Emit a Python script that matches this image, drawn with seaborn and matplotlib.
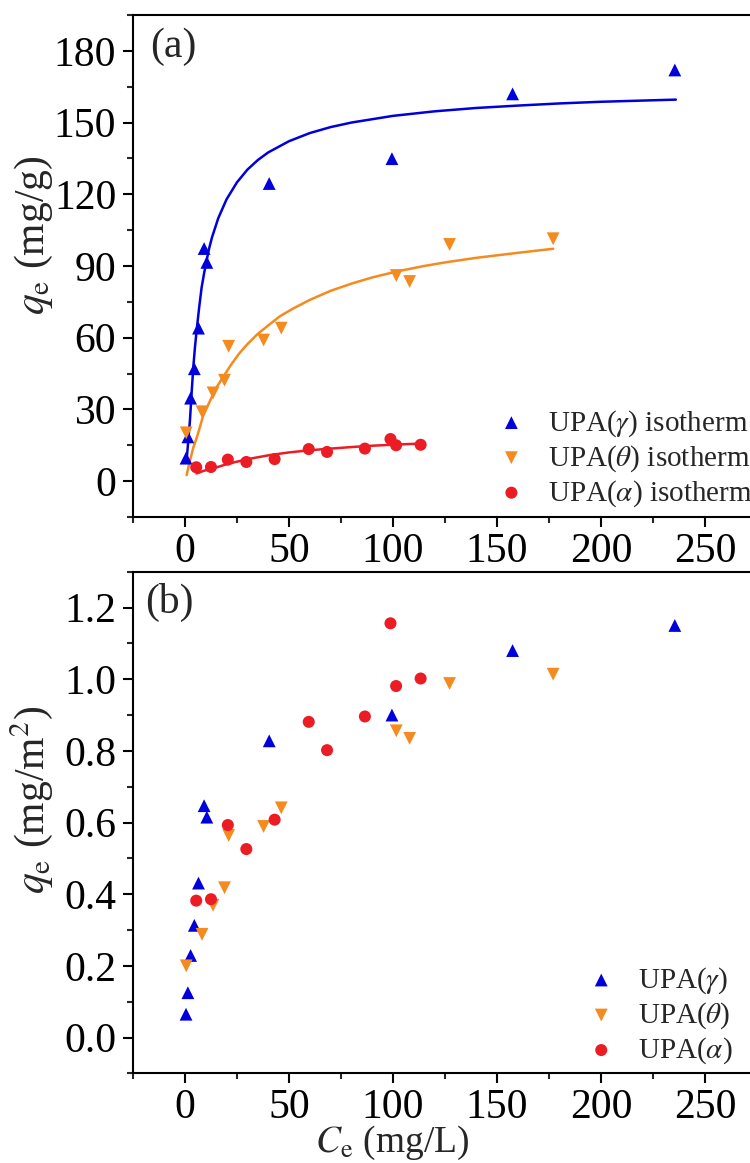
import numpy as np
import pandas as pd
import seaborn as sns
import matplotlib.pyplot as plt
from matplotlib.ticker import MultipleLocator

# measured points (same Ce in both panels)
ce_gamma = [0.5, 1.4, 2.7, 4.5, 6.5, 9.2, 10.5, 40.5, 99.5, 157.5, 235.5]
qa_gamma = [9.6, 18.5, 34.7, 47.0, 64.0, 97.3, 91.5, 124.5, 134.9, 162.0, 172.0]
qb_gamma = [0.065, 0.125, 0.229, 0.313, 0.431, 0.647, 0.615, 0.828, 0.900, 1.080, 1.150]

ce_theta = [0.6, 8.2, 13.5, 19.0, 21.0, 37.8, 46.3, 101.6, 108.0, 127.2, 177.0]
qa_theta = [20.2, 29.0, 36.9, 42.2, 56.4, 59.0, 64.0, 86.0, 83.5, 99.0, 101.4]
qb_theta = [0.200, 0.288, 0.369, 0.418, 0.564, 0.589, 0.641, 0.856, 0.835, 0.988, 1.014]

ce_alpha = [5.4, 12.5, 20.6, 29.5, 43.1, 59.5, 68.3, 86.5, 98.8, 101.5, 113.3]
qa_alpha = [5.8, 5.9, 9.0, 8.0, 9.2, 13.4, 12.2, 13.6, 17.6, 15.0, 15.2]
qb_alpha = [0.382, 0.386, 0.593, 0.526, 0.608, 0.881, 0.802, 0.896, 1.156, 0.981, 1.002]

# fitted isotherm curves
fit_ce_gamma = [0.8, 1.6, 2.4, 3.2, 4.0, 4.8, 5.6, 6.8, 8.0, 9.2, 10.4, 11.6, 13, 16, 20, 25, 30, 35, 40,
                50, 60, 70, 80, 100, 120, 140, 160, 180, 200, 220, 236]
fit_q_gamma = [8.8, 17.0, 25.5, 37.0, 47.7, 56.0, 63.0, 72.5, 81.0, 87.0, 92.3, 97.3, 102.0, 110.0, 117.9,
               125.0, 130.3, 134.3, 137.5, 142.2, 145.6, 148.1, 150.0, 152.8, 154.7, 156.1, 157.1, 158.0,
               158.7, 159.2, 159.6]
fit_ce_theta = [0.8, 2, 4, 6, 8.8, 12, 15, 18.4, 22, 26, 30, 35, 40, 45.7, 52, 60, 70, 80, 90, 101.8,
                115, 125.8, 140, 160, 177]
fit_q_theta = [2.5, 7.2, 14.0, 19.1, 27.5, 33.5, 39.0, 43.6, 48.5, 53.3, 57.3, 61.6, 65.1, 69.0, 72.2,
               75.8, 79.6, 82.6, 85.2, 87.7, 90.0, 91.6, 93.4, 95.5, 97.2]
fit_ce_alpha = [5.6, 9, 13.6, 19, 24.8, 32, 40.9, 50, 60, 70, 81, 90, 101.8, 113.5]
fit_q_alpha = [3.2, 4.3, 5.3, 6.8, 8.1, 9.5, 10.9, 12.0, 12.9, 13.6, 14.3, 14.8, 15.3, 15.7]

labels = ['UPA($\\gamma$)', 'UPA($\\theta$)', 'UPA($\\alpha$)']
colors = ['#0000dc', '#f58a1f', '#ec1c24']
markers = ['^', 'v', 'o']

sns.set_theme(style='ticks')
plt.rcParams['font.family'] = ['Liberation Serif', 'DejaVu Serif']
plt.rcParams['mathtext.fontset'] = 'stix'
plt.rcParams['axes.linewidth'] = 1.5

fig = plt.figure(figsize=(7.5, 11.63), dpi=100)
ax1 = fig.add_axes([0.1773, 0.5555, 0.832, 0.4316])
ax2 = fig.add_axes([0.1773, 0.0771, 0.832, 0.4313])

ce_all = [ce_gamma, ce_theta, ce_alpha]
fits = [(fit_ce_gamma, fit_q_gamma), (fit_ce_theta, fit_q_theta), (fit_ce_alpha, fit_q_alpha)]

# panel (a)
for i in range(3):
    fx, fy = fits[i]
    sns.lineplot(x=fx, y=fy, ax=ax1, color=colors[i], linewidth=1.8, sort=False)
for i, qa in enumerate([qa_gamma, qa_theta, qa_alpha]):
    sns.scatterplot(x=ce_all[i], y=qa, ax=ax1, color=colors[i], marker=markers[i],
                    s=85 if markers[i] != 'o' else 75, edgecolor='none',
                    label=labels[i] + ' isotherm', zorder=3)

# panel (b)
for i, qb in enumerate([qb_gamma, qb_theta, qb_alpha]):
    sns.scatterplot(x=ce_all[i], y=qb, ax=ax2, color=colors[i], marker=markers[i],
                    s=85 if markers[i] != 'o' else 75, edgecolor='none',
                    label=labels[i], zorder=3)

ax1.set_xlim(-25, 275)
ax1.set_ylim(-15, 195)
ax1.yaxis.set_major_locator(MultipleLocator(30))
ax1.yaxis.set_minor_locator(MultipleLocator(15))
ax2.set_xlim(-25, 275)
ax2.set_ylim(-0.1, 1.3)
ax2.yaxis.set_major_locator(MultipleLocator(0.2))
ax2.yaxis.set_minor_locator(MultipleLocator(0.1))
ax2.yaxis.set_major_formatter(plt.FormatStrFormatter('%.1f'))

for ax in (ax1, ax2):
    ax.xaxis.set_major_locator(MultipleLocator(50))
    ax.xaxis.set_minor_locator(MultipleLocator(25))
    ax.tick_params(which='major', direction='out', length=7, width=1.5, labelsize=30, colors='black')
    ax.tick_params(which='minor', direction='out', length=4, width=1.5)
    ax.tick_params(axis='x', which='major', pad=4)
    ax.tick_params(axis='y', which='major', pad=5)
    ax.tick_params(top=False, right=False, which='both')
    for sp in ax.spines.values():
        sp.set_visible(True)
        sp.set_color('black')
        sp.set_linewidth(1.5)
    ax.set_xlabel('')
    ax.set_ylabel('')
    ax.legend(loc='lower left', bbox_to_anchor=(0.541, -0.03), frameon=False, fontsize=21,
              handlelength=1.2, handletextpad=0.65, labelspacing=0.15, borderpad=0.3)

ax2.get_legend().set_bbox_to_anchor((0.685, -0.032))

ax1.set_ylabel('$q_\\mathrm{e}$ (mg/g)', fontsize=30)
ax1.yaxis.set_label_coords(-0.125, 0.562)
ax2.set_ylabel('$q_\\mathrm{e}$ (mg/m$^2$)', fontsize=30)
ax2.yaxis.set_label_coords(-0.125, 0.545)
ax2.set_xlabel('$C_\\mathrm{e}$ (mg/L)', fontsize=27)
ax2.xaxis.set_label_coords(0.415, -0.1)

ax1.text(0.027, 0.975, '(a)', transform=ax1.transAxes, fontsize=30, va='top', ha='left')
ax2.text(0.02, 0.978, '(b)', transform=ax2.transAxes, fontsize=30, va='top', ha='left')

fig.savefig('out.png', dpi=100)
